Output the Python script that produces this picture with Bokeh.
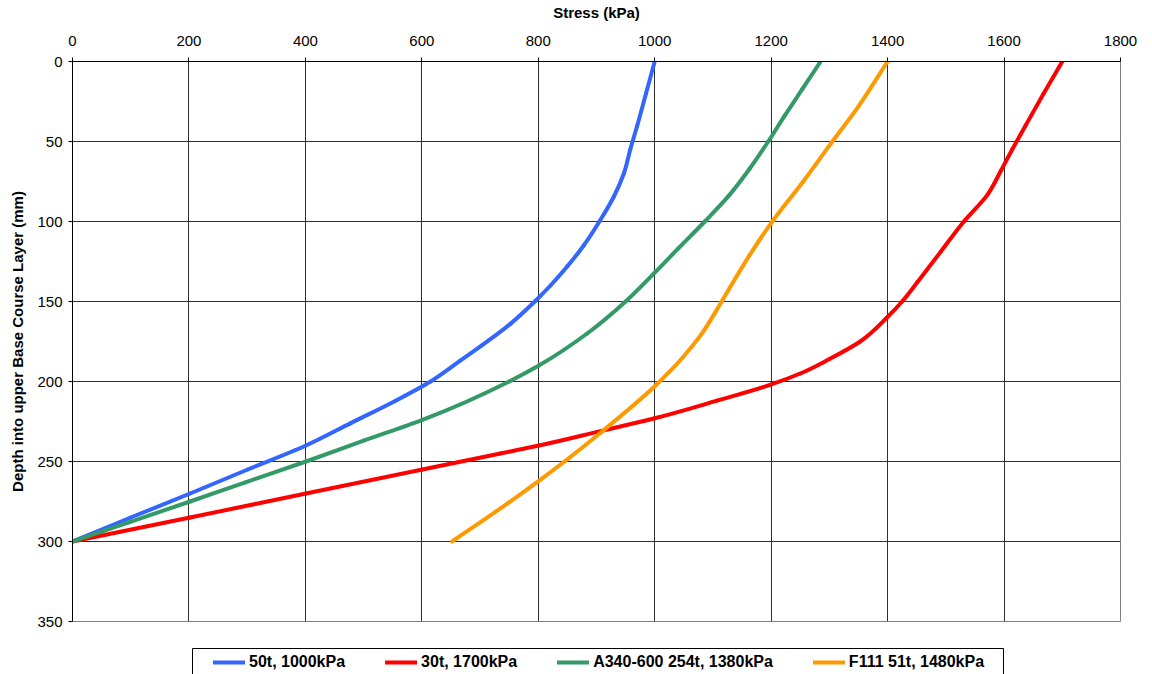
import numpy as np
from bokeh.plotting import figure
from bokeh.layouts import column
from bokeh.models import Range1d, FixedTicker, Legend, LegendItem, BoxAnnotation
from bokeh.embed import file_html
from bokeh.resources import INLINE

# Vertical stress profiles through the upper base course layer
depth_50t = [0, 20, 40, 55, 70, 85, 100, 115, 128, 140, 150, 164, 187, 200, 212, 226, 240, 255, 270, 285, 300]
stress_50t = [1000, 985, 970, 958, 947, 929, 905, 878, 850, 821, 794, 752, 666, 615, 555, 478, 401, 301, 202, 100, 0]

depth_30t = [0, 20, 40, 55, 68, 83, 100, 119, 138, 150, 160, 175, 186, 195, 202, 212, 223, 231, 240, 245, 255, 270, 285, 300]
stress_30t = [1700, 1668, 1637, 1614, 1595, 1572, 1531, 1491, 1451, 1425, 1399, 1353, 1300, 1250, 1199, 1107, 1000, 907, 801, 735, 601, 401, 202, 0]

depth_a340 = [0, 17, 34, 50, 67, 84, 100, 117, 132, 150, 170, 190, 200, 224, 237, 250, 263, 275, 288, 300]
stress_a340 = [1285, 1254, 1223, 1195, 1163, 1127, 1086, 1040, 1000, 950, 884, 801, 750, 601, 500, 401, 297, 202, 97, 0]

depth_f111 = [0, 28, 51, 75, 101, 121, 142, 150, 171, 185, 203, 232, 250, 261, 276, 300]
stress_f111 = [1400, 1350, 1303, 1255, 1200, 1163, 1128, 1115, 1079, 1048, 1000, 907, 845, 805, 748, 652]

series_labels = ["50t, 1000kPa", "30t, 1700kPa", "A340-600 254t, 1380kPa", "F111 51t, 1480kPa"]
series_colors = ["#3366FF", "#FF0000", "#339966", "#FF9900"]

x_ticks = list(range(0, 1801, 200))
y_ticks = list(range(0, 351, 50))

FONT = "Liberation Sans"
LEFT, RIGHT = 72, 32


def smooth_segments(xs, ys):
    """Hermite spline of stress against depth, as cubic Bezier pieces."""
    x = np.asarray(xs, dtype=float)
    y = np.asarray(ys, dtype=float)
    h = np.diff(y)
    d = np.diff(x) / h
    m = np.empty_like(x)
    m[0], m[-1] = d[0], d[-1]
    m[1:-1] = (h[:-1] * d[1:] + h[1:] * d[:-1]) / (h[:-1] + h[1:])
    return dict(
        x0=x[:-1], y0=y[:-1], x1=x[1:], y1=y[1:],
        cx0=x[:-1] + m[:-1] * h / 3.0, cy0=y[:-1] + h / 3.0,
        cx1=x[1:] - m[1:] * h / 3.0, cy1=y[1:] - h / 3.0,
    )


p = figure(width=1152, height=640, output_backend="svg", toolbar_location=None,
           x_axis_location="above",
           x_range=Range1d(0, 1800), y_range=Range1d(350, 0),
           min_border_left=LEFT, min_border_right=RIGHT, min_border_top=61, min_border_bottom=19)
p.outline_line_color = "#808080"
p.outline_line_width = 1
p.background_fill_color = "white"
p.border_fill_color = "white"

for ax, ticks in ((p.xaxis[0], x_ticks), (p.yaxis[0], y_ticks)):
    ax.ticker = FixedTicker(ticks=ticks)
    ax.minor_tick_line_color = None
    ax.major_tick_in = 0
    ax.major_tick_out = 4
    ax.axis_line_color = "black"
    ax.major_tick_line_color = "black"
    ax.major_label_text_font = FONT
    ax.major_label_text_font_size = "15px"
    ax.major_label_text_color = "black"
    ax.axis_label_text_font = FONT
    ax.axis_label_text_font_size = "15px"
    ax.axis_label_text_font_style = "bold"
    ax.axis_label_text_color = "black"

p.xaxis.axis_label = "Stress (kPa)"
p.xaxis.major_label_standoff = 12
p.xaxis.axis_label_standoff = 12
p.yaxis.axis_label = "Depth into upper Base Course Layer (mm)"
p.yaxis.major_label_standoff = 6
p.yaxis.axis_label_standoff = 8

p.xgrid.ticker = FixedTicker(ticks=x_ticks)
p.ygrid.ticker = FixedTicker(ticks=y_ticks)
for g in (p.xgrid[0], p.ygrid[0]):
    g.grid_line_color = "#2e2e2e"
    g.grid_line_width = 1

for xs, ys, col in ((stress_50t, depth_50t, series_colors[0]),
                    (stress_30t, depth_30t, series_colors[1]),
                    (stress_a340, depth_a340, series_colors[2]),
                    (stress_f111, depth_f111, series_colors[3])):
    seg = smooth_segments(xs, ys)
    p.bezier(x0="x0", y0="y0", x1="x1", y1="y1", cx0="cx0", cy0="cy0", cx1="cx1", cy1="cy1",
             source=seg, line_color=col, line_width=4, line_cap="round")

# Legend strip beneath the chart; its ranges are in pixels of its frame
frame_w = 1152 - LEFT - RIGHT
leg = figure(width=1152, height=34, output_backend="svg", toolbar_location=None,
             x_axis_location=None, y_axis_location=None,
             x_range=Range1d(0, frame_w), y_range=Range1d(0, 28),
             min_border_left=LEFT, min_border_right=RIGHT, min_border_top=6, min_border_bottom=0)
leg.outline_line_color = None
leg.background_fill_color = "white"
leg.border_fill_color = "white"
leg.grid.visible = False

items = []
for lab, col in zip(series_labels, series_colors):
    r = leg.line(x=[np.nan], y=[np.nan], line_color=col, line_width=4, line_cap="round")
    items.append(LegendItem(label=lab, renderers=[r]))

legend = Legend(
    items=items, orientation="horizontal", location=(141, 2),
    padding=0, margin=0, spacing=40,
    glyph_width=32, glyph_height=20, label_standoff=4, label_height=20,
    label_text_font=FONT, label_text_font_style="bold", label_text_font_size="16px",
    label_text_color="black",
    border_line_alpha=0, background_fill_alpha=0,
)
leg.add_layout(legend, "center")
leg.add_layout(BoxAnnotation(left=120, right=931, top=26, bottom=-10,
                             fill_alpha=0, line_color="black", line_width=1, line_alpha=1))

layout = column(p, leg, spacing=0)
open("out.html", "w").write(file_html(layout, INLINE))
